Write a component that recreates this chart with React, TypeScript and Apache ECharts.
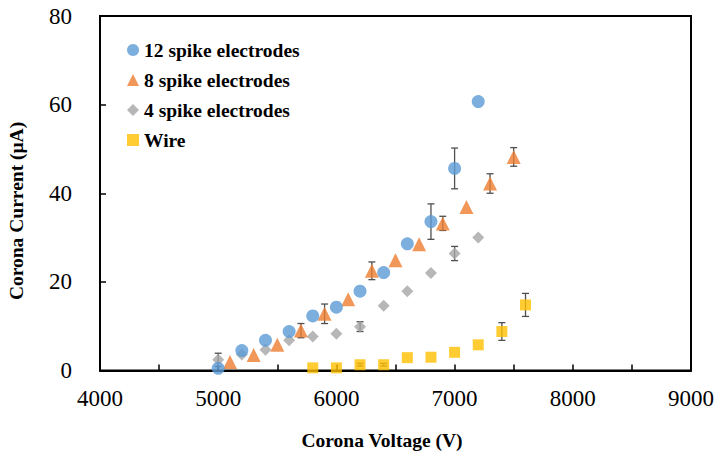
import React, { useEffect, useRef } from "react";
import * as echarts from "echarts";

// ---- data ----
const spike12X = [5000, 5200, 5400, 5600, 5800, 6000, 6200, 6400, 6600, 6800, 7000, 7200];
const spike12Y = [0.5, 4.5, 6.8, 8.8, 12.3, 14.3, 17.9, 22.1, 28.6, 33.6, 45.6, 60.7];
const spike12Err = [0, 0, 0, 0, 0, 0, 0, 0, 0, 4.0, 4.6, 0];

const spike8X = [5100, 5300, 5500, 5700, 5900, 6100, 6300, 6500, 6700, 6900, 7100, 7300, 7500];
const spike8Y = [1.9, 3.5, 5.8, 9.0, 12.8, 16.1, 22.5, 24.9, 28.5, 33.2, 36.9, 42.2, 48.2];
const spike8Err = [0, 0, 0, 1.6, 2.2, 0, 2.0, 0, 0, 1.6, 0, 2.2, 2.1];

const spike4X = [5000, 5200, 5400, 5600, 5800, 6000, 6200, 6400, 6600, 6800, 7000, 7200];
const spike4Y = [2.4, 3.6, 4.7, 6.8, 7.7, 8.3, 9.9, 14.6, 17.9, 22.0, 26.4, 30.0];
const spike4Err = [1.5, 0, 0, 0, 0, 0, 1.1, 0, 0, 0, 1.6, 0];

const wireX = [5800, 6000, 6200, 6400, 6600, 6800, 7000, 7200, 7400, 7600];
const wireY = [0.6, 0.6, 1.3, 1.3, 2.9, 3.0, 4.1, 5.8, 8.8, 14.8];
const wireErr = [0, 0, 0.3, 0.3, 0, 0, 0, 0, 2.0, 2.6];

const seriesNames = ["12 spike electrodes", "8 spike electrodes", "4 spike electrodes", "Wire"];
const xTitle = "Corona Voltage (V)";
const yTitle = "Corona Current (μA)";

const FONT = "'Liberation Serif', 'Times New Roman', serif";

function pts(xs: number[], ys: number[]) {
  return xs.map((x, i) => [x, ys[i]]);
}
function errs(xs: number[], ys: number[], es: number[]) {
  return xs
    .map((x, i) => [x, ys[i] - es[i], ys[i] + es[i], es[i]])
    .filter((d) => d[3] > 0);
}

function errorSeries(data: number[][]) {
  return {
    type: "custom",
    silent: true,
    z: 1,
    data,
    encode: { x: 0, y: [1, 2] },
    renderItem: (params: any, api: any) => {
      const x = api.value(0);
      const lo = api.coord([x, api.value(1)]);
      const hi = api.coord([x, api.value(2)]);
      const w = 3.5;
      const style = { stroke: "#505050", lineWidth: 1.3 };
      return {
        type: "group",
        children: [
          { type: "line", shape: { x1: lo[0], y1: lo[1], x2: hi[0], y2: hi[1] }, style },
          { type: "line", shape: { x1: lo[0] - w, y1: lo[1], x2: lo[0] + w, y2: lo[1] }, style },
          { type: "line", shape: { x1: hi[0] - w, y1: hi[1], x2: hi[0] + w, y2: hi[1] }, style },
        ],
      };
    },
  };
}

export default function App() {
  const ref = useRef<HTMLDivElement>(null);
  useEffect(() => {
    if (!ref.current) return;
    const chart = echarts.init(ref.current, null, { renderer: "svg" });
    const colors = ["#5B9BD5", "#ED7D31", "#A5A5A5", "#FFC000"];
    chart.setOption({
      animation: false,
      backgroundColor: "#ffffff",
      color: colors,
      grid: {
        left: 100,
        right: 29,
        top: 16,
        bottom: 84.5,
        show: true,
        borderColor: "#000",
        borderWidth: 2,
      },
      legend: {
        orient: "vertical",
        left: 122,
        top: 35,
        itemWidth: 12,
        itemHeight: 12,
        itemGap: 10,
        data: [
          { name: seriesNames[0], icon: "circle" },
          { name: seriesNames[1], icon: "triangle" },
          { name: seriesNames[2], icon: "diamond" },
          { name: seriesNames[3], icon: "rect" },
        ],
        textStyle: { fontFamily: FONT, fontWeight: "bold", fontSize: 19.5, color: "#000" },
      },
      xAxis: {
        type: "value",
        min: 4000,
        max: 9000,
        interval: 500,
        splitLine: { show: false },
        axisLine: { onZero: false, lineStyle: { color: "#000", width: 2 } },
        axisTick: { inside: true, length: 6, lineStyle: { color: "#000", width: 1.5 } },
        axisLabel: {
          margin: 16,
          fontFamily: FONT,
          fontSize: 23,
          color: "#000",
          formatter: (v: number) => (v % 1000 === 0 ? String(v) : ""),
        },
      },
      yAxis: {
        type: "value",
        min: 0,
        max: 80,
        interval: 20,
        splitLine: { show: false },
        axisLine: { lineStyle: { color: "#000", width: 2 } },
        axisTick: { inside: true, length: 6, lineStyle: { color: "#000", width: 1.5 } },
        axisLabel: { margin: 28, fontFamily: FONT, fontSize: 23, color: "#000" },
      },
      graphic: [
        {
          type: "text",
          x: 382,
          y: 440,
          style: {
            text: xTitle,
            fontFamily: FONT,
            fontWeight: "bold",
            fontSize: 19.5,
            fill: "#000",
            align: "center",
            verticalAlign: "middle",
          },
        },
        {
          type: "text",
          x: 16,
          y: 211,
          rotation: Math.PI / 2,
          style: {
            text: yTitle,
            fontFamily: FONT,
            fontWeight: "bold",
            fontSize: 19.5,
            fill: "#000",
            align: "center",
            verticalAlign: "middle",
          },
        },
      ],
      series: [
        errorSeries(errs(spike12X, spike12Y, spike12Err)),
        errorSeries(errs(spike8X, spike8Y, spike8Err)),
        errorSeries(errs(spike4X, spike4Y, spike4Err)),
        errorSeries(errs(wireX, wireY, wireErr)),
        {
          name: seriesNames[3],
          type: "scatter",
          symbol: "rect",
          symbolSize: 11,
          z: 2,
          itemStyle: { color: colors[3] },
          data: pts(wireX, wireY),
        },
        {
          name: seriesNames[2],
          type: "scatter",
          symbol: "diamond",
          symbolSize: 12,
          z: 2,
          itemStyle: { color: colors[2] },
          data: pts(spike4X, spike4Y),
        },
        {
          name: seriesNames[1],
          type: "scatter",
          symbol: "triangle",
          symbolSize: 14,
          z: 2,
          itemStyle: { color: colors[1] },
          data: pts(spike8X, spike8Y),
        },
        {
          name: seriesNames[0],
          type: "scatter",
          symbol: "circle",
          symbolSize: 13,
          z: 2,
          itemStyle: { color: colors[0] },
          data: pts(spike12X, spike12Y),
        },
      ],
    });
    return () => chart.dispose();
  }, []);
  return <div ref={ref} style={{ width: 720, height: 455, position: "absolute", left: 0, top: 0 }} />;
}
